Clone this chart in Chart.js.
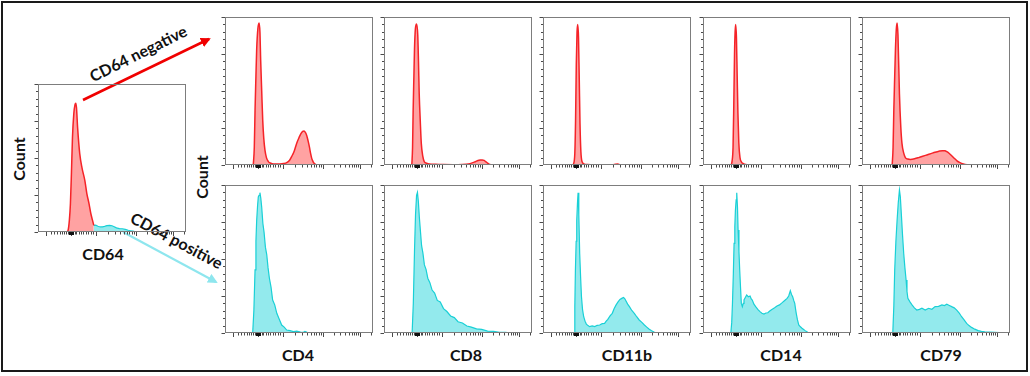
<!DOCTYPE html>
<html>
<head>
<meta charset="utf-8">
<script src="https://cdn.jsdelivr.net/npm/chart.js@4.4.0/dist/chart.umd.min.js"></script>
<style>
  body { margin: 0; background: #fff; font-family: Lato, "Open Sans", sans-serif; }
  #stage { position: relative; width: 1030px; height: 376px; overflow: hidden; }
  #frame { position: absolute; left: 1px; top: 1px; width: 1027px; height: 371px; border: 2px solid #1a1a1a; box-sizing: border-box; }
  canvas { position: absolute; }
  .lbl { position: absolute; font-weight: 700; font-size: 16px; color: #111; white-space: nowrap; transform: translate(-50%, -50%); }
  svg { position: absolute; left: 0; top: 0; }
</style>
</head>
<body>
<div id="stage">
  <div id="frame"></div>
  <svg width="1030" height="376">
    <defs>
      <marker id="headRed" viewBox="0 0 10 10" refX="8" refY="5" markerWidth="4" markerHeight="4" orient="auto">
        <path d="M0,0 L10,5 L0,10 z" fill="#f00000"/>
      </marker>
      <marker id="headCyan" viewBox="0 0 10 10" refX="8" refY="5" markerWidth="4.5" markerHeight="4.5" orient="auto">
        <path d="M0,0 L10,5 L0,10 z" fill="#8ee6ee"/>
      </marker>
    </defs>
    <line x1="83" y1="100" x2="209" y2="39" stroke="#f00000" stroke-width="2.5" marker-end="url(#headRed)"/>
    <line x1="123" y1="232" x2="216" y2="282" stroke="#8ee6ee" stroke-width="2.2" marker-end="url(#headCyan)"/>
  </svg>
  <div class="lbl" style="left:18px;top:159px;transform:translate(-50%,-50%) rotate(-90deg)">Count</div>
  <div class="lbl" style="left:201px;top:177px;transform:translate(-50%,-50%) rotate(-90deg)">Count</div>
  <div class="lbl" style="left:103px;top:253px">CD64</div>
  <div class="lbl" style="left:138px;top:53px;transform:translate(-50%,-50%) rotate(-26.5deg)">CD64 negative</div>
  <div class="lbl" style="left:177px;top:240px;transform:translate(-50%,-50%) rotate(28deg)">CD64 positive</div>
</div>
<script>
// axis ticks (percent of panel)
const xMajorTicks = [5.4, 22.4, 39, 66, 91];
const xMinorTicks = [8.5, 10.8, 12.8, 14.6, 16.2, 17.7, 19, 20.2, 21.3, 23.5, 24.7, 26, 27.4, 28.9, 30.5, 32.2, 34, 35.9, 37.4,
  47.1, 51.9, 55.3, 57.9, 60, 61.8, 63.4, 64.8, 73.5, 77.9, 81, 83.5, 85.5, 87.1, 88.6, 89.9, 98.5];
const yMajorTicks = [0, 25, 50, 75, 100];
const yMinorTicks = [5, 10, 15, 20, 30, 35, 40, 45, 55, 60, 65, 70, 80, 85, 90, 95];
const zeroTick = 22.4;

const markers = ['CD4', 'CD8', 'CD11b', 'CD14', 'CD79'];
const markerLabelX = [298, 466, 627, 781, 941];

// CD64 gate histogram
const cd64NegX = [19.5, 20.3, 21.2, 21.9, 22.6, 23.3, 24.2, 25.0, 25.5, 26.0, 26.8, 28.2, 29.8, 31.6, 33.0, 34.5, 35.8, 36.8, 37.7];
const cd64NegY = [0, 1, 8, 19, 40, 64, 80, 86, 87, 84, 70, 53, 43, 35, 26, 19, 12, 8, 4.5];
const cd64PosX = [37.7, 39, 40.5, 42, 43.5, 45, 46.5, 48.5, 50, 51.5, 53, 55, 57, 59, 61, 63, 65, 68, 72, 78, 85, 92];
const cd64PosY = [4.5, 4.6, 3.9, 3.4, 3.5, 3.8, 4.3, 4.5, 4.2, 3.6, 2.8, 2.3, 2.2, 1.8, 1.2, 0.7, 0.4, 0.2, 0.1, 0.1, 0.05, 0];

// CD64 negative row
const cd4NegX = [19.1, 19.8, 20.3, 20.9, 21.4, 22.2, 23.0, 23.6, 24.1, 24.8, 25.5, 26.2, 27.0, 28.0, 29.3, 31.0, 32.7, 35, 37, 39.5, 41.7, 43.5, 45, 46.8, 48.4, 50, 51.4, 52.5, 53.4, 54.3, 55.2, 56.1, 57, 57.8, 58.6, 59.4, 60.2, 61.2, 62.3];
const cd4NegY = [0, 12, 37, 60, 78, 92, 96, 90, 71, 50, 30, 18, 10, 5, 2.3, 1.2, 0.7, 0.6, 0.7, 1, 1.6, 3, 5.6, 9.5, 14.6, 18.5, 21.4, 22.7, 23, 22, 20, 16.5, 12.4, 8, 4.5, 2.5, 1.2, 0.4, 0];
const cd8NegX = [18.8, 19.3, 19.7, 20.2, 20.6, 21.2, 22.0, 22.8, 23.3, 23.8, 24.5, 25.2, 26.2, 27.2, 28.8, 30.6, 35, 40, 46.5, 50, 55.6, 58, 60, 62, 63.5, 65, 66.4, 67.6, 68.7, 70, 71, 72.6];
const cd8NegY = [0, 12, 37, 60, 78, 92, 95.3, 88, 70, 48, 30, 14.6, 6, 2.3, 1.2, 0.7, 0.5, 0.3, 0.2, 0.2, 0.5, 0.9, 1.6, 2.4, 3, 3.3, 3.4, 3.1, 2.3, 1.3, 0.6, 0];
const cd11bNegX = [20.5, 21.5, 22.0, 22.5, 23.0, 23.5, 24.0, 24.5, 25.0, 25.6, 26.5, 28, 30, 33, 40, 47, 49, 50.5, 52, 55];
const cd11bNegY = [0, 8, 30, 68, 90, 95, 86, 58, 28, 9, 2, 0.6, 0.3, 0.2, 0.1, 0.1, 0.5, 0.6, 0.2, 0];
const cd14NegX = [19, 19.7, 20.3, 20.8, 21.3, 21.7, 22.1, 22.6, 23.1, 23.6, 24.2, 25, 26, 27.5, 29, 31];
const cd14NegY = [0, 3, 12, 40, 75, 90, 95, 86, 60, 35, 15, 5, 2, 0.8, 0.3, 0];
const cd79NegX = [20.4, 21.0, 21.5, 22.1, 22.6, 23.2, 23.7, 24.3, 25.3, 26.2, 27.0, 28.2, 29.3, 31, 32.7, 35.5, 38.3, 41, 43.8, 46.6, 49.4, 52, 54.4, 56, 57.3, 59, 60.6, 62.3, 64, 66.2, 68.5, 71, 74];
const cd79NegY = [0, 12, 37, 60, 78, 92, 96, 88, 48, 26, 14.6, 8, 5, 4, 3.8, 4.2, 5, 5.9, 6.8, 7.7, 8.6, 9.3, 9.7, 9.6, 9, 7.8, 6.3, 4.6, 3, 1.6, 0.7, 0.2, 0];

// CD64 positive row
const cd4PosX = [18.7, 19.5, 20.3, 20.9, 21.4, 22.0, 22.5, 23.0, 23.6, 24.2, 24.8, 25.6, 26.4, 27.3, 28.2, 29.1, 30.0, 31.1, 32.2, 33.6, 35.0, 36.6, 38.3, 40.0, 41.7, 44.0, 46.2, 48.5, 51, 53, 54, 55.5, 57.4, 60, 62];
const cd4PosY = [0, 15, 42.6, 62, 76, 86, 92, 93, 94.8, 91, 85, 74, 68, 58, 53, 44, 37, 31, 22.3, 19, 13.3, 9.5, 5.4, 4, 2, 1.6, 0.9, 1.3, 0.6, 0.5, 1.1, 0.5, 0.3, 0.1, 0];
const cd8PosX = [19.0, 19.8, 20.6, 21.3, 22.0, 22.6, 23.2, 23.9, 24.6, 25.4, 26.3, 27.3, 28.4, 29.6, 31.0, 32.5, 34.2, 36.0, 38.0, 40.2, 42.5, 45, 47.5, 50, 53, 56, 59, 62.5, 66, 70, 74, 78, 82, 86];
const cd8PosY = [0, 20, 55, 80, 93, 95, 89, 78, 69, 59, 54, 46, 43, 37, 34, 29, 27, 22, 21, 16.5, 14.5, 11.5, 10.4, 7.6, 6.8, 4.7, 4, 2.8, 2.4, 1.3, 1.1, 0.5, 0.4, 0];
const cd11bPosX = [21.0, 21.5, 21.9, 22.4, 22.8, 23.3, 23.7, 24.2, 24.8, 25.4, 26.0, 26.7, 27.5, 28.4, 29.3, 30.4, 31.5, 33.2, 35.0, 36.6, 38.3, 40.0, 41.6, 42.7, 43.8, 45.3, 46.8, 48.1, 49.4, 50.7, 52.0, 53.2, 54.4, 55.2, 56.0, 57.2, 58.4, 60.0, 61.7, 63.3, 65.0, 66.8, 68.5, 70.1, 71.8, 73.4, 75.0, 76.7];
const cd11bPosY = [0, 18, 42.6, 62, 76, 88, 94.8, 80, 53.6, 38, 24.5, 16, 11, 8, 6, 5, 4.3, 4.8, 4.3, 5.2, 5.4, 6.3, 6.5, 8, 9.2, 11.5, 13.3, 16.5, 19, 21, 22.7, 23.4, 24, 23.3, 21.8, 19.5, 17.8, 15.2, 13.3, 11, 8.8, 7.2, 5.4, 4, 2.5, 1.5, 0.7, 0];
const cd14PosX = [18.8, 19.4, 19.9, 20.5, 21.0, 21.5, 21.9, 22.4, 22.8, 23.3, 23.7, 24.3, 24.8, 25.4, 25.9, 26.6, 27.2, 27.7, 28.6, 29.5, 30.6, 31.8, 32.6, 33.3, 34.4, 35.6, 37.0, 38.5, 39.8, 41.2, 42.5, 43.8, 45.3, 46.8, 48.4, 50.0, 51.7, 53.5, 55.2, 56.8, 57.9, 59.0, 59.8, 60.6, 61.3, 62.0, 62.5, 63.0, 63.8, 64.7, 65.8, 66.9, 68.0, 69.0, 70.2, 71.4];
const cd14PosY = [0, 7, 20, 40, 60.6, 72, 83, 90, 94.8, 85, 69.6, 55, 42.6, 30, 20, 17.8, 20, 22.3, 24, 25.7, 24.5, 25, 23, 22.3, 19.5, 17.8, 16, 14.4, 13.3, 12.8, 13.5, 13.7, 15, 16, 17, 18.2, 19, 20.5, 22, 23.4, 25, 28.6, 26, 24.5, 22, 20, 16.5, 13.3, 9, 5.4, 4.2, 3.2, 2.4, 1.6, 0.8, 0];
const cd79PosX = [20.8, 21.5, 22.1, 22.9, 23.7, 24.5, 25.3, 25.9, 26.6, 27.4, 28.2, 29.0, 29.8, 30.4, 31.0, 32.4, 33.8, 35.4, 37.0, 38.8, 40.5, 42.7, 45.0, 47.2, 49.4, 51.7, 54.0, 55.7, 57.3, 59.0, 60.6, 62.3, 64.0, 65.7, 67.3, 69.0, 70.7, 72.3, 74.0, 76.2, 78.5, 80.7, 83.0, 86.0, 89.7, 93.0, 96.0, 99.0];
const cd79PosY = [0, 18, 42.6, 62, 76, 88, 96.6, 92, 80, 66, 53.6, 44, 35.8, 28, 23.4, 21, 19, 17, 15.5, 16, 16.7, 15.5, 16.7, 16, 17.8, 18, 19, 18.5, 19.4, 18.6, 17.8, 17, 15.5, 13.5, 11, 8.8, 6.5, 5, 3.8, 2.6, 1.6, 1.1, 0.7, 0.6, 0.5, 0.3, 0.2, 0];

const RED = { line: 'rgb(245,35,40)', fill: 'rgba(255,70,70,0.5)', smooth: true };
const CYAN = { line: 'rgb(25,208,214)', fill: 'rgba(40,214,220,0.5)', smooth: false };

// draws the box and the flow-style tick marks from the chart's scales
const panelFrame = {
  id: 'panelFrame',
  afterDatasetsDraw(chart) {
    const { ctx, chartArea: a, scales: { x, y } } = chart;
    ctx.save();
    ctx.strokeStyle = '#7d7d7d';
    ctx.lineWidth = 1;
    ctx.strokeRect(a.left + 0.5, a.top + 0.5, a.right - a.left - 1, a.bottom - a.top - 1);

    ctx.strokeStyle = '#4a4a4a';
    ctx.beginPath();
    yMajorTicks.forEach(v => {
      const py = Math.round(y.getPixelForValue(v)) + 0.5;
      ctx.moveTo(a.left - 3.5, py); ctx.lineTo(a.left, py);
    });
    yMinorTicks.forEach(v => {
      const py = Math.round(y.getPixelForValue(v)) + 0.5;
      ctx.moveTo(a.left - 2, py); ctx.lineTo(a.left, py);
    });
    xMajorTicks.forEach(v => {
      const px = Math.round(x.getPixelForValue(v)) + 0.5;
      ctx.moveTo(px, a.bottom); ctx.lineTo(px, a.bottom + 4);
    });
    xMinorTicks.forEach(v => {
      const px = Math.round(x.getPixelForValue(v)) + 0.5;
      ctx.moveTo(px, a.bottom); ctx.lineTo(px, a.bottom + 2.5);
    });
    ctx.stroke();
    ctx.fillStyle = '#111';
    const zx = x.getPixelForValue(zeroTick);
    ctx.fillRect(Math.round(zx) - 2, a.bottom, 5, 3);
    ctx.restore();
  }
};

function addPanel(left, top, series) {
  const padL = 6, padR = 1, padT = 1, padB = 6, size = 148;
  const cv = document.createElement('canvas');
  cv.width = size + padL + padR;
  cv.height = size + padT + padB;
  cv.style.left = (left - padL) + 'px';
  cv.style.top = (top - padT) + 'px';
  document.getElementById('stage').appendChild(cv);

  new Chart(cv, {
    type: 'line',
    data: {
      datasets: series.map(s => ({
        data: s.x.map((v, i) => ({ x: v, y: s.y[i] })),
        borderColor: s.style.line,
        backgroundColor: s.style.fill,
        borderWidth: s.style.smooth ? 1.5 : 1.2,
        fill: 'origin',
        pointRadius: 0,
        cubicInterpolationMode: s.style.smooth ? 'monotone' : 'default',
        tension: 0
      }))
    },
    options: {
      responsive: false,
      animation: false,
      events: [],
      layout: { padding: { left: padL, right: padR, top: padT, bottom: padB } },
      plugins: { legend: { display: false }, tooltip: { enabled: false } },
      scales: {
        x: { type: 'linear', min: 0, max: 100, display: false },
        y: { type: 'linear', min: 0, max: 100, display: false }
      }
    },
    plugins: [panelFrame]
  });
}

addPanel(38, 84, [
  { x: cd64NegX, y: cd64NegY, style: RED },
  { x: cd64PosX, y: cd64PosY, style: CYAN }
]);

const panelLefts = [225, 384, 543, 703, 862];
const negSeries = [[cd4NegX, cd4NegY], [cd8NegX, cd8NegY], [cd11bNegX, cd11bNegY], [cd14NegX, cd14NegY], [cd79NegX, cd79NegY]];
const posSeries = [[cd4PosX, cd4PosY], [cd8PosX, cd8PosY], [cd11bPosX, cd11bPosY], [cd14PosX, cd14PosY], [cd79PosX, cd79PosY]];

markers.forEach((m, i) => {
  addPanel(panelLefts[i], 17, [{ x: negSeries[i][0], y: negSeries[i][1], style: RED }]);
  addPanel(panelLefts[i], 185, [{ x: posSeries[i][0], y: posSeries[i][1], style: CYAN }]);
  const lbl = document.createElement('div');
  lbl.className = 'lbl';
  lbl.style.left = markerLabelX[i] + 'px';
  lbl.style.top = '354px';
  lbl.textContent = m;
  document.getElementById('stage').appendChild(lbl);
});
</script>
</body>
</html>
